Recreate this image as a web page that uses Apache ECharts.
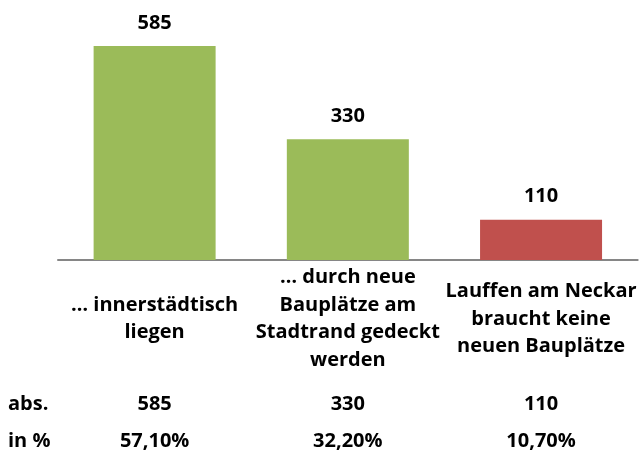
<!DOCTYPE html>
<html>
<head>
<meta charset="utf-8">
<script src="https://cdn.jsdelivr.net/npm/echarts@6/dist/echarts.min.js"></script>
<style>
  html, body { margin: 0; padding: 0; background: #fff; }
  #main { width: 639px; height: 455px; }
</style>
</head>
<body>
<div id="main"></div>
<script>
const categories = [
  "… innerstädtisch\nliegen",
  "… durch neue\nBauplätze am\nStadtrand gedeckt\nwerden",
  "Lauffen am Neckar\nbraucht keine\nneuen Bauplätze"
];
const values = [585, 330, 110];
const barColors = ["#9BBB59", "#9BBB59", "#C0504D"];
const absLabels = ["585", "330", "110"];
const pctLabels = ["57,10%", "32,20%", "10,70%"];
const rowHeads = ["abs.", "in %"];

const FONT = "'Open Sans', sans-serif";
const FS = 20;

const chart = echarts.init(document.getElementById("main"));

// hidden extra x axes carry the table rows under the chart
function tableAxis(labels, margin) {
  return {
    type: "category",
    data: labels,
    position: "bottom",
    axisLine: { show: false },
    axisTick: { show: false },
    axisLabel: {
      margin: margin,
      fontFamily: FONT,
      fontWeight: "bold",
      fontSize: FS,
      color: "#000",
      verticalAlign: "middle"
    }
  };
}

const option = {
  animation: false,
  grid: { left: 58, right: -2, top: 40.5, bottom: 195 },
  xAxis: [
    {
      type: "category",
      data: categories,
      axisLine: { lineStyle: { color: "#868686", width: 2 } },
      axisTick: { show: false },
      axisLabel: {
        margin: 59,
        interval: 0,
        fontFamily: FONT,
        fontWeight: "bold",
        fontSize: FS,
        lineHeight: 27.5,
        color: "#000",
        verticalAlign: "middle"
      }
    },
    tableAxis(absLabels, 144.5),
    tableAxis(pctLabels, 181.5)
  ],
  yAxis: {
    type: "value",
    min: 0,
    max: 600,
    show: false
  },
  graphic: rowHeads.map((t, i) => ({
    type: "text",
    x: 8,
    y: i === 0 ? 404.5 : 441.5,
    style: {
      text: t,
      font: "bold " + FS + "px " + FONT,
      fill: "#000",
      verticalAlign: "middle"
    }
  })),
  series: [
    {
      type: "bar",
      xAxisIndex: 0,
      barWidth: 122,
      data: values.map((v, i) => ({ value: v, itemStyle: { color: barColors[i] } })),
      label: {
        show: true,
        position: "top",
        distance: 13,
        fontFamily: FONT,
        fontWeight: "bold",
        fontSize: FS,
        color: "#000"
      }
    }
  ]
};

chart.setOption(option);
</script>
</body>
</html>
